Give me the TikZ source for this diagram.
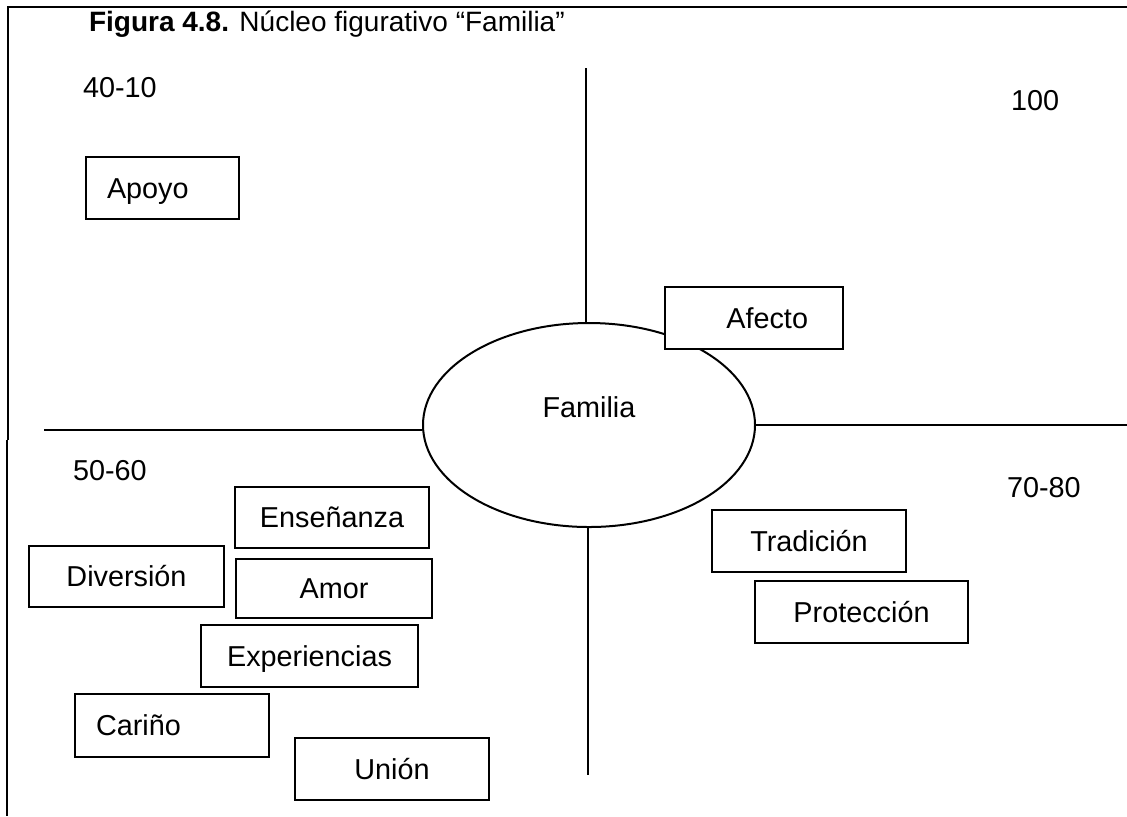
\documentclass[tikz,border=0pt]{standalone}
\usepackage{fontspec}
\setmainfont{Liberation Sans}
\usetikzlibrary{shapes.geometric, positioning}

\begin{document}
\begin{tikzpicture}[
  x=0.5pt, y=-0.5pt,
  every node/.style={font=\fontsize{14.4}{17}\selectfont},
  catbox/.style={rectangle, draw, fill=white, line width=0.9pt, minimum height=31pt, text height=10.3pt, text depth=0pt},
  leftbox/.style={catbox, align=left, inner xsep=10.5pt},
  nucleus/.style={ellipse, draw, line width=1pt, minimum width=166pt, minimum height=102pt, inner sep=0pt, text height=10.3pt, text depth=18.3pt},
  axis/.style={line width=1.2pt},
  rangelabel/.style={anchor=base west}
]
\useasboundingbox (0,0) rectangle (1127,816);

% Frame
\draw[line width=1pt] (1127,7) -- (8,7) -- (8,440);
\draw[line width=0.8pt] (7,440) -- (7,816);

% Caption
\node[anchor=base west, font=\fontsize{14}{17}\selectfont] (caption) at (82,31) {\textbf{Figura 4.8.} Núcleo figurativo “Familia”};

% Nucleus and axes
\node[nucleus] (familia) at (589,425) {Familia};

\coordinate (axtop) at (586,68);
\coordinate (axbot) at (588,775);
\coordinate (axleft) at (44,430);
\coordinate (axright) at (1127,425);

\draw[axis] (axtop) -- (axtop |- familia.north);
\draw[axis] (axbot |- familia.south) -- (axbot);
\draw[axis] (axleft) -- (axleft -| familia.west);
\draw[axis] (familia.east) -- (axright);

% Quadrant ranges
\node[rangelabel] (r4010) at (76,97) {40-10};
\node[rangelabel] (r100) at (1004,110) {100};
\node[rangelabel] (r5060) at (66,480) {50-60};
\node[rangelabel] (r7080) at (1000,497) {70-80};

% Elements
\node[leftbox, text width=55.5pt] (apoyo) at (162.5,188) {Apoyo};
\node[catbox, align=right, inner xsep=17.5pt, text width=54pt] (afecto) at (754,318) {Afecto};

\node[catbox, minimum width=97pt, minimum height=30.5pt] (ensenanza) at (332,517.5) {Enseñanza};
\node[catbox, minimum width=97.5pt, minimum height=30.5pt] (diversion) at (126.5,576.5) {Diversión};
\node[catbox, minimum width=98pt, minimum height=29.5pt] (amor) at (334,588.5) {Amor};
\node[catbox, minimum width=108.5pt] (experiencias) at (309.5,656) {Experiencias};
\node[leftbox, text width=76pt, minimum height=31.5pt] (carino) at (172,725.5) {Cariño};
\node[catbox, minimum width=97pt] (union) at (392,769) {Unión};

\node[catbox, minimum width=97pt] (tradicion) at (809,541) {Tradición};
\node[catbox, minimum width=106.5pt] (proteccion) at (861.5,612) {Protección};

\end{tikzpicture}
\end{document}
